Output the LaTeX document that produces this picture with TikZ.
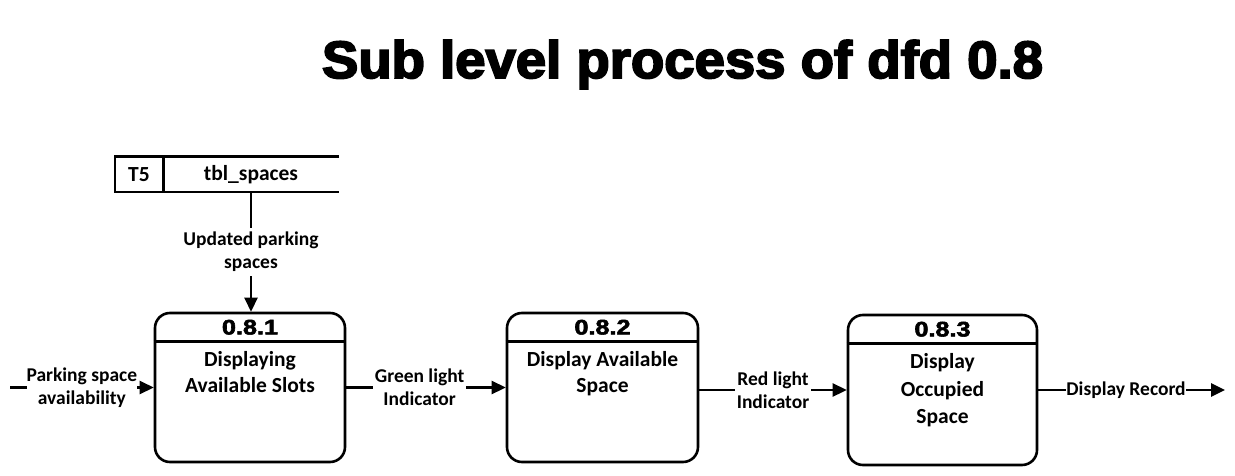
\documentclass[tikz,border=0pt]{standalone}
\usepackage{fontspec}
\setmainfont{Carlito}
\newfontfamily\titlefont[FakeBold=3.5]{Liberation Sans}
\newfontfamily\hdrfont[FakeBold=2.5]{Liberation Sans}
\usetikzlibrary{arrows.meta,calc}
\tikzset{
  ln/.style={line width=2.6pt},
  flow/.style={ln,-{Triangle[length=14pt,width=13pt]}},
  procbox/.style={draw,line width=2.6pt,rounded corners=15pt,inner sep=0pt},
  hdr/.style={font=\hdrfont\bfseries\fontsize{21}{24}\selectfont},
  body/.style={font=\bfseries\fontsize{21.5}{25.5}\selectfont,align=center,anchor=north,inner sep=0pt},
  lbl/.style={font=\bfseries\fontsize{19.5}{23}\selectfont,align=center,fill=white,inner sep=1.5pt},
  storecell/.style={font=\bfseries\fontsize{21.5}{25}\selectfont,minimum height=35pt,inner sep=0pt}
}
\begin{document}
\begin{tikzpicture}[x=1pt,y=-1pt]
\useasboundingbox (0,0) rectangle (1235,476);
% title
\node[anchor=base,inner sep=0pt] (title) at (682.5,78)
  {\resizebox{721pt}{38pt}{\titlefont\bfseries Sub level process of dfd 0.8}};
% data store
\node[storecell,minimum width=48pt] (t5) at (139,174.5) {T5};
\node[storecell,minimum width=176pt] (tbl) at (251,174.5) {tbl\_spaces};
\draw[ln] (tbl.north east) -- (t5.north west) -- (t5.south west) -- (tbl.south east);
\draw[ln] (t5.north east) -- (t5.south east);
% processes
\node[procbox,minimum width=190pt,minimum height=149pt] (p1) at (250,387.5) {};
\node[procbox,minimum width=191pt,minimum height=149pt] (p2) at (602.5,387.5) {};
\node[procbox,minimum width=189pt,minimum height=150pt] (p3) at (942.5,390) {};
\foreach \p/\n in {p1/0.8.1,p2/0.8.2,p3/0.8.3}{
  \node[hdr] (\p h) at ($(\p.north)+(0,15.5)$) {\scalebox{1.2}[1]{\n}};
  \draw[ln] ($(\p.north west)+(0,30)$) -- ($(\p.north east)+(0,30)$);
}
\node[body] (p1t) at ($(p1.north)+(0,40)$) {Displaying\\Available Slots};
\node[body] (p2t) at ($(p2.north)+(0,40)$) {Display Available\\Space};
\node[body,font=\bfseries\fontsize{21.5}{27.5}\selectfont] (p3t) at ($(p3.north)+(0,40)$) {Display\\Occupied\\Space};
% flows
\coordinate (src) at (10,387.5);
\coordinate (sink) at (1225,390);
\draw[flow] (tbl.south) -- (tbl.south |- p1.north)
  node[lbl,midway,inner sep=4pt] (l1) {Updated parking\\spaces};
\draw[flow] (src) -- (p1.west)
  node[lbl,pos=0.5,inner sep=0pt] (l2) {Parking space\\availability};
\draw[flow] (p1.east) -- (p2.west)
  node[lbl,pos=0.46] (l3) {Green light\\Indicator};
\draw[flow] (p2.east |- p3.west) -- (p3.west)
  node[lbl,pos=0.5] (l4) {Red light\\Indicator};
\draw[flow] (p3.east) -- (sink)
  node[lbl,pos=0.47,inner sep=0pt] (l5) {Display Record};
\end{tikzpicture}
\end{document}
